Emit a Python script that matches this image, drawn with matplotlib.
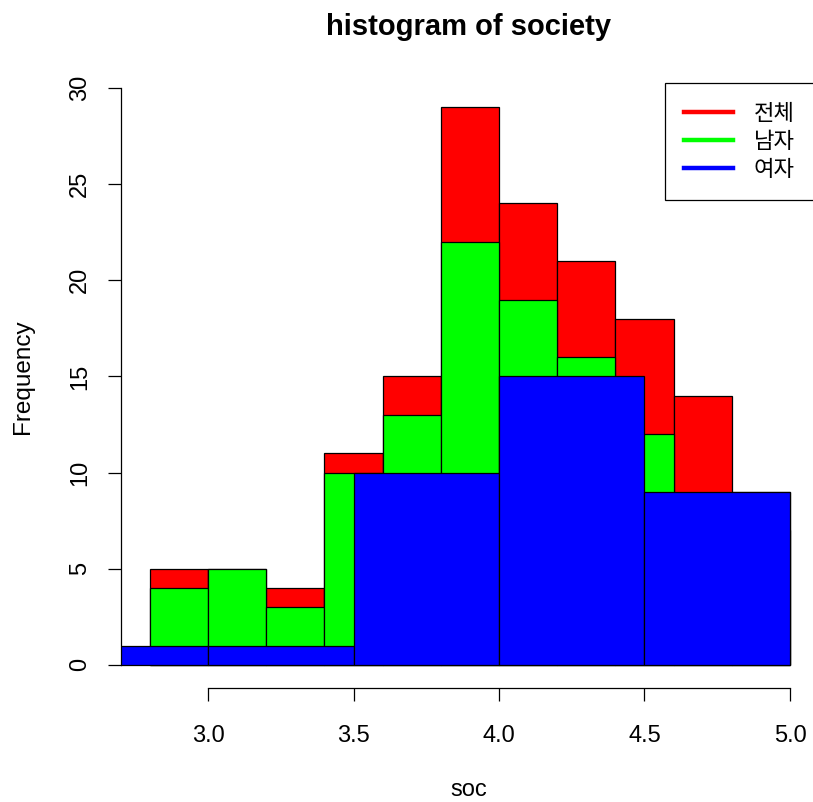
import matplotlib.pyplot as plt
from matplotlib.lines import Line2D
import numpy as np

plt.rcParams['font.family'] = ['Liberation Sans', 'DejaVu Sans']

# bin edges and counts for the three histograms of soc
all_edges = [2.8, 3.0, 3.2, 3.4, 3.6, 3.8, 4.0, 4.2, 4.4, 4.6, 4.8, 5.0]
all_counts = [5, 5, 4, 11, 15, 29, 24, 21, 18, 14, 9]

male_edges = [2.8, 3.0, 3.2, 3.4, 3.6, 3.8, 4.0, 4.2, 4.4, 4.6, 4.8, 5.0]
male_counts = [4, 5, 3, 10, 13, 22, 19, 16, 12, 8, 7]

female_edges = [2.5, 3.0, 3.5, 4.0, 4.5, 5.0]
female_counts = [1, 1, 10, 15, 9]

labels = ['전체', '남자', '여자']
colors = ['red', '#00ff00', 'blue']

W, H = 813, 802
fig = plt.figure(figsize=(W / 100, H / 100), dpi=100)
ax = fig.add_axes([121 / W, (H - 688) / H, (815.6 - 121) / W, (688 - 65) / H])


def draw_hist(edges, counts, color):
    edges = np.asarray(edges)
    ax.bar(edges[:-1], counts, width=np.diff(edges), align='edge',
           color=color, edgecolor='black', linewidth=0.9)


draw_hist(all_edges, all_counts, colors[0])
draw_hist(male_edges, male_counts, colors[1])
draw_hist(female_edges, female_counts, colors[2])

ax.set_xlim(2.701, 5.088)
ax.set_ylim(-1.2, 31.2)

for s in ['top', 'right']:
    ax.spines[s].set_visible(False)
ax.spines['left'].set_bounds(0, 30)
ax.spines['bottom'].set_bounds(3.0, 5.0)
ax.spines['left'].set_linewidth(0.9)
ax.spines['bottom'].set_linewidth(0.9)

ax.set_xticks([3.0, 3.5, 4.0, 4.5, 5.0])
ax.set_xticklabels(['3.0', '3.5', '4.0', '4.5', '5.0'])
ax.set_yticks([0, 5, 10, 15, 20, 25, 30])
ax.tick_params(axis='both', direction='out', length=9.5, width=0.9,
               labelsize=17, colors='black')
ax.tick_params(axis='x', pad=17)
ax.tick_params(axis='y', pad=12)
for t in ax.get_yticklabels():
    t.set_rotation(90)
    t.set_va('center')

ax.set_xlabel('soc', fontsize=17, labelpad=23)
ax.set_ylabel('Frequency', fontsize=17.5, labelpad=25)
fig.text((121 + 815.6) / 2 / W, 1 - 27 / H, 'histogram of society',
         ha='center', va='center', fontsize=21, fontweight='bold')

handles = [Line2D([], [], color=c, linewidth=3.2) for c in colors]
leg = ax.legend(handles, labels, loc='upper left',
                bbox_to_anchor=(665 / W, 1 - 83 / H),
                bbox_transform=fig.transFigure, borderaxespad=0,
                frameon=True, fancybox=False, framealpha=1,
                handlelength=2.2, handletextpad=0.95, labelspacing=0.22,
                borderpad=0.85,
                prop={'family': ['Noto Sans CJK KR', 'DejaVu Sans'], 'size': 16})
leg.get_frame().set_edgecolor('black')
leg.get_frame().set_linewidth(0.9)

fig.savefig('out.png', dpi=100)
